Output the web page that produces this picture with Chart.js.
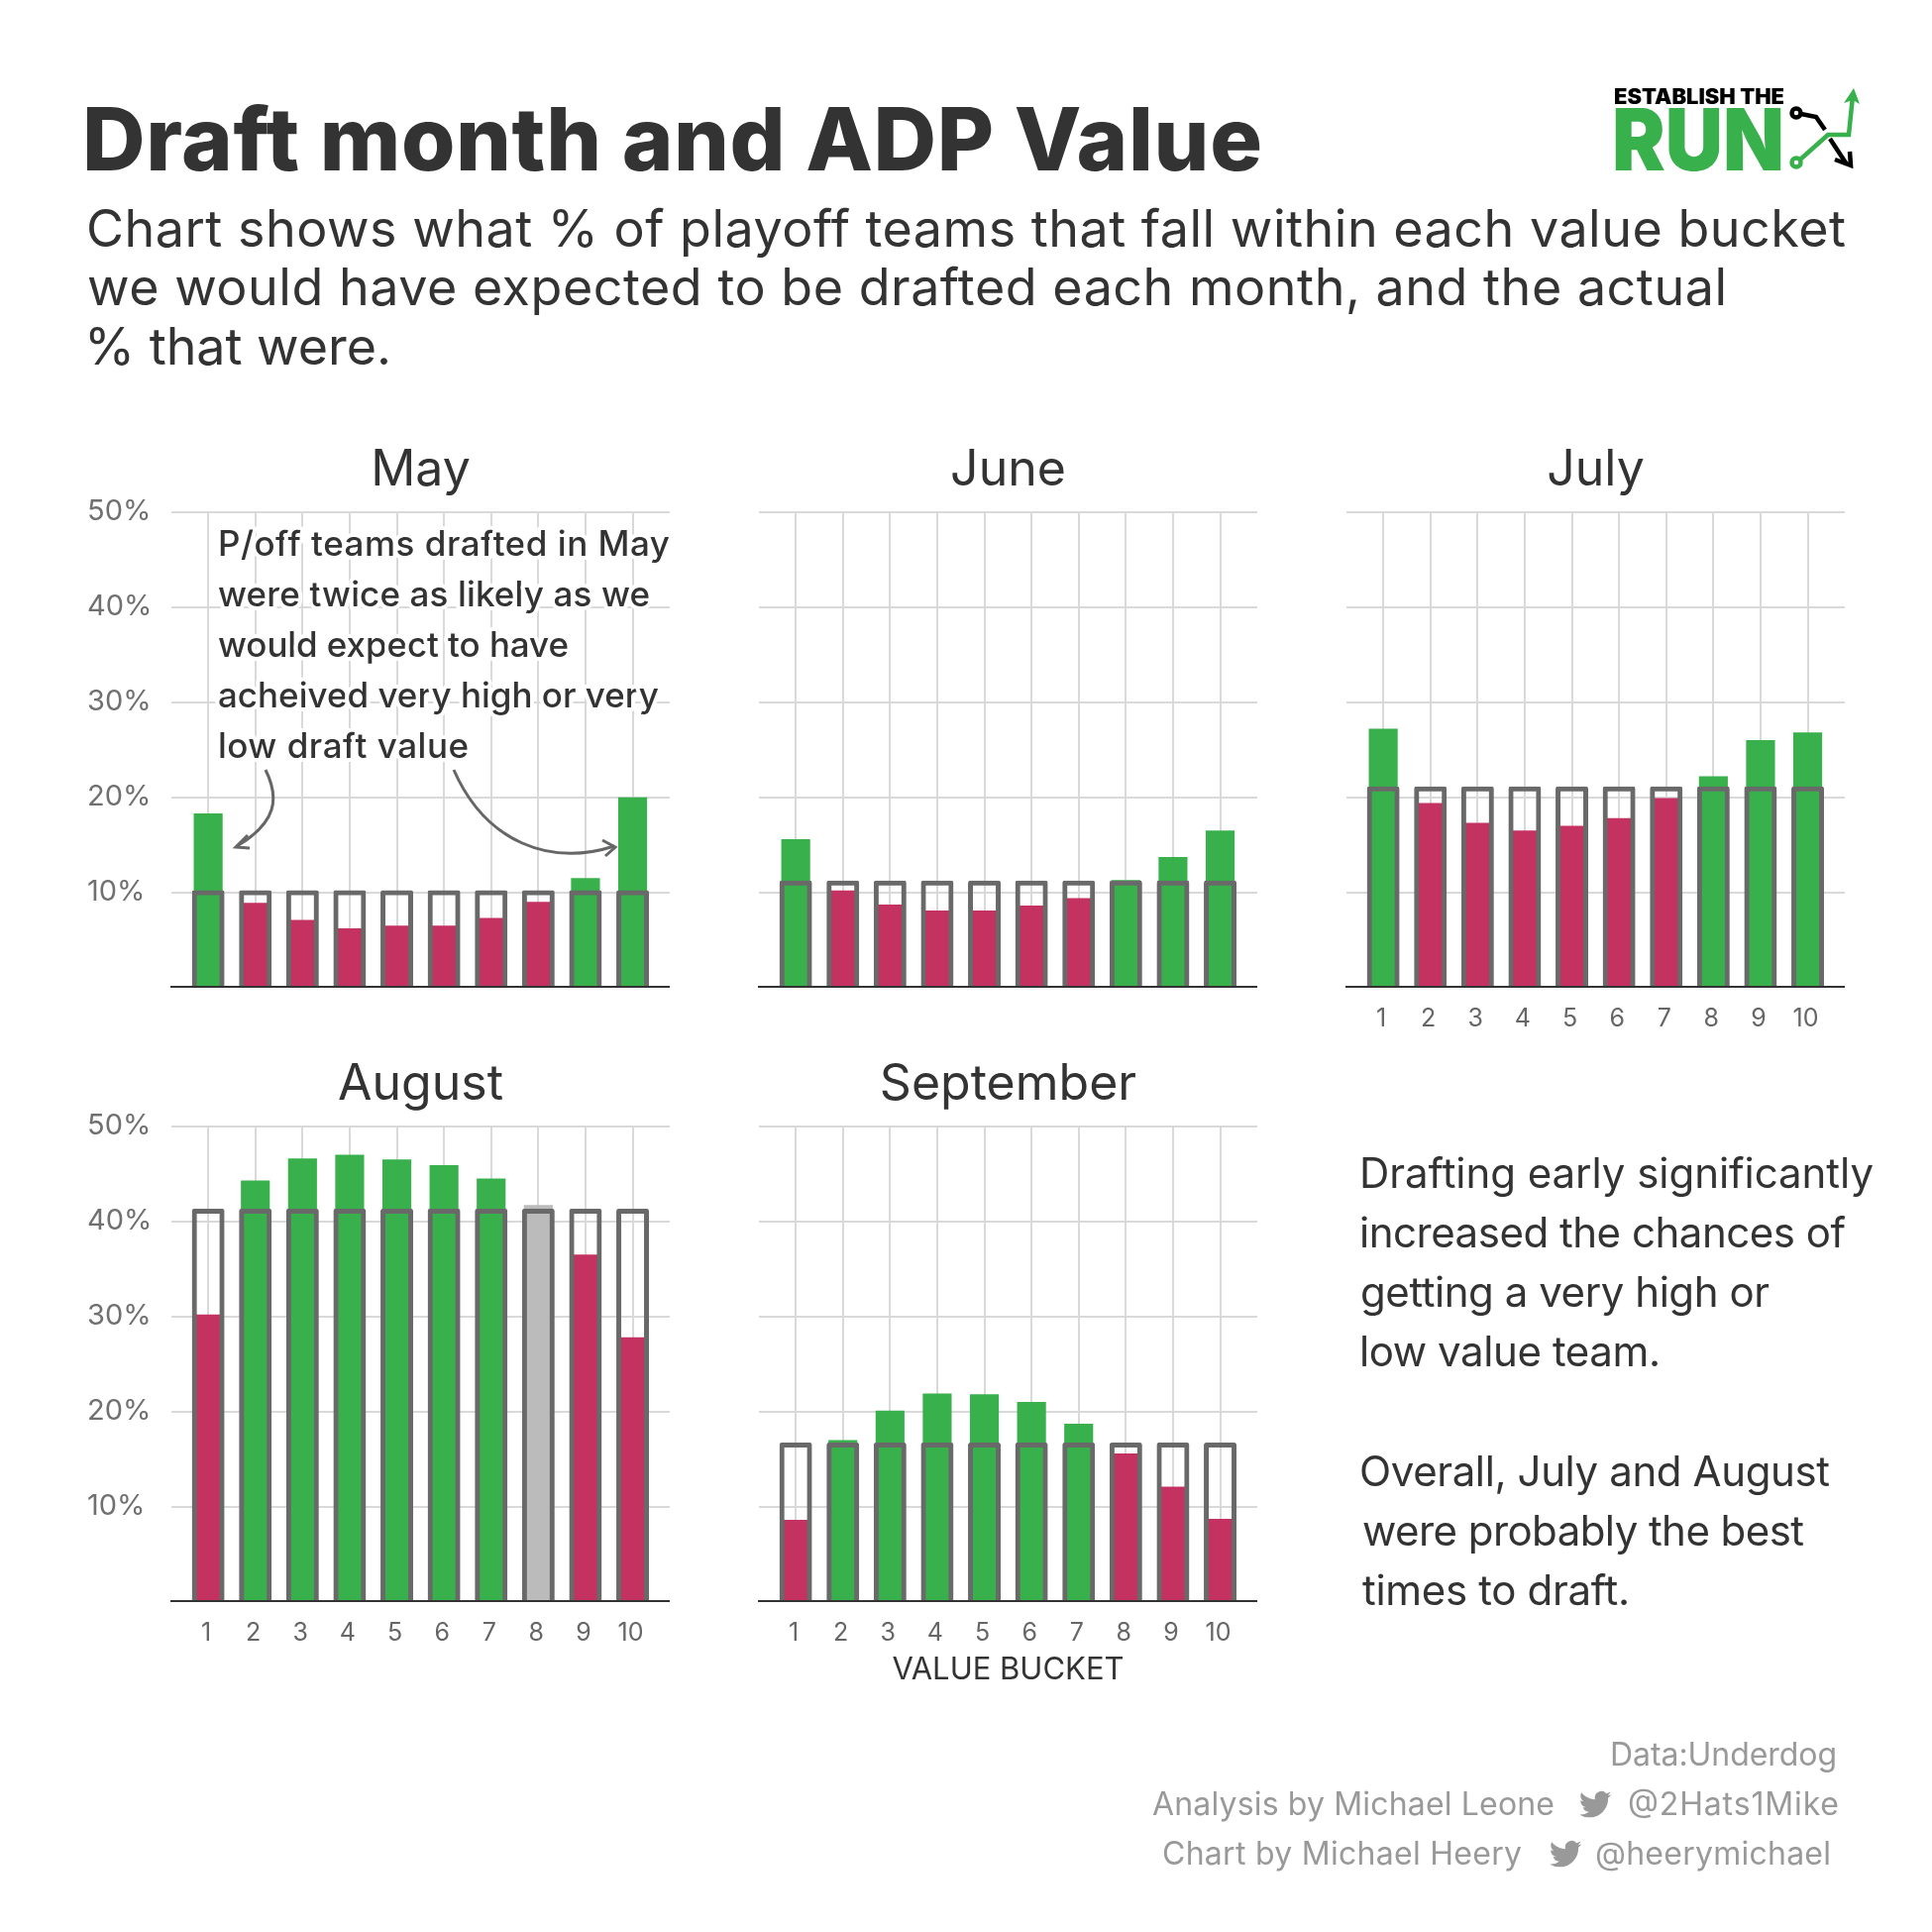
<!DOCTYPE html>
<html>
<head>
<meta charset="utf-8">
<title>Draft month and ADP Value</title>
<script src="https://cdn.jsdelivr.net/npm/chart.js@4/dist/chart.umd.js"></script>
<style>
  html, body { margin: 0; padding: 0; background: #fff; }
  #page { position: relative; width: 1950px; height: 1950px; overflow: hidden; background: #fff; }
  canvas { position: absolute; }
  #overlay { position: absolute; left: 0; top: 0; }
  #overlay text { font-family: Inter, sans-serif; }
  .head { font-size: 52px; fill: #333; }
  .note { font-size: 35px; font-weight: 500; fill: #333; paint-order: stroke fill; stroke: #fff; stroke-width: 8px; stroke-linejoin: round; }
  .side { font-size: 42px; fill: #333; }
  .foot { font-size: 32px; fill: #999; }
</style>
</head>
<body>
<div id="page">
  <canvas id="may"></canvas>
  <canvas id="june"></canvas>
  <canvas id="july"></canvas>
  <canvas id="august"></canvas>
  <canvas id="september"></canvas>

  <svg id="overlay" width="1950" height="1950" viewBox="0 0 1950 1950">
    <defs>
      <path id="bird" d="M23.953 4.57a10 10 0 01-2.825.775 4.958 4.958 0 002.163-2.723c-.951.555-2.005.959-3.127 1.184a4.92 4.92 0 00-8.384 4.482C7.69 8.095 4.067 6.13 1.64 3.162a4.822 4.822 0 00-.666 2.475c0 1.71.87 3.213 2.188 4.096a4.904 4.904 0 01-2.228-.616v.06a4.923 4.923 0 003.946 4.827 4.996 4.996 0 01-2.212.085 4.936 4.936 0 004.604 3.417 9.867 9.867 0 01-6.102 2.105c-.39 0-.779-.023-1.17-.067a13.995 13.995 0 007.557 2.209c9.053 0 13.998-7.496 13.998-13.985 0-.21 0-.42-.015-.63A9.935 9.935 0 0024 4.59z"/>
    </defs>

    <!-- heading -->
    <text x="83" y="172" textLength="1191" font-size="88" font-weight="800" fill="#333">Draft month and ADP Value</text>
    <text class="head" x="87" y="249" textLength="1776">Chart shows what % of playoff teams that fall within each value bucket</text>
    <text class="head" x="88" y="308" textLength="1655">we would have expected to be drafted each month, and the actual</text>
    <text class="head" x="85" y="368" textLength="310">% that were.</text>

    <!-- logo -->
    <text x="1629" y="105" textLength="172" lengthAdjust="spacingAndGlyphs" font-size="21" font-weight="900" fill="#000">ESTABLISH THE</text>
    <text x="1627" y="172" textLength="174" lengthAdjust="spacingAndGlyphs" font-size="87" font-weight="900" fill="#38b04c">RUN</text>
    <g fill="none" stroke-width="4.5">
      <circle cx="1813" cy="114" r="4.5" stroke="#000"/>
      <path d="M1818 115 L1833 118 L1842 131" stroke="#000"/>
      <path d="M1847 140 L1864 166" stroke="#000"/>
      <path d="M1852 161 L1868 167 L1867 153" stroke="#000"/>
      <circle cx="1813" cy="164" r="4.5" stroke="#38b04c"/>
      <path d="M1817 161 L1845 136 L1866 136 L1870 97" stroke="#38b04c"/>
    </g>
    <path d="M1871 89 L1877 105 L1870 101 L1861 104 Z" fill="#38b04c"/>

    <!-- May annotation -->
    <text class="note" x="220" y="561" textLength="456">P/off teams drafted in May</text>
    <text class="note" x="220" y="612" textLength="436">were twice as likely as we</text>
    <text class="note" x="220" y="663" textLength="354">would expect to have</text>
    <text class="note" x="220" y="714" textLength="445">acheived very high or very</text>
    <text class="note" x="220" y="765" textLength="253">low draft value</text>
    <g fill="none" stroke="#666" stroke-width="3">
      <path d="M268 777 C282 805 280 830 239 854"/>
      <path d="M250 843 L238 855 L252 856"/>
      <path d="M458 777 C490 850 555 875 620 854"/>
      <path d="M608 848 L621 855 L611 864"/>
    </g>

    <!-- side text -->
    <text class="side" x="1372" y="1199" textLength="519">Drafting early significantly</text>
    <text class="side" x="1372" y="1259" textLength="491">increased the chances of</text>
    <text class="side" x="1373" y="1319" textLength="413">getting a very high or</text>
    <text class="side" x="1372" y="1379" textLength="304">low value team.</text>
    <text class="side" x="1372" y="1500" textLength="475">Overall, July and August</text>
    <text class="side" x="1375" y="1560" textLength="446">were probably the best</text>
    <text class="side" x="1375" y="1620" textLength="270">times to draft.</text>

    <!-- credits -->
    <text class="foot" x="1625" y="1782" textLength="229">Data:Underdog</text>
    <text class="foot" x="1163" y="1832" textLength="406">Analysis by Michael Leone</text>
    <use href="#bird" transform="translate(1594 1805) scale(1.35)" fill="#999"/>
    <text class="foot" x="1643" y="1832" textLength="213">@2Hats1Mike</text>
    <text class="foot" x="1173" y="1882" textLength="363">Chart by Michael Heery</text>
    <use href="#bird" transform="translate(1564 1855) scale(1.35)" fill="#999"/>
    <text class="foot" x="1610" y="1882" textLength="238">@heerymichael</text>
  </svg>
</div>

<script>
const buckets = [1, 2, 3, 4, 5, 6, 7, 8, 9, 10];
const yTicks = [10, 20, 30, 40, 50];

const mayActual = [18.3, 8.9, 7.1, 6.2, 6.5, 6.5, 7.3, 9.0, 11.5, 20.0];
const mayExpected = [10, 10, 10, 10, 10, 10, 10, 10, 10, 10];
const juneActual = [15.6, 10.2, 8.7, 8.1, 8.1, 8.6, 9.4, 11.3, 13.7, 16.5];
const juneExpected = [11, 11, 11, 11, 11, 11, 11, 11, 11, 11];
const julyActual = [27.2, 19.4, 17.3, 16.5, 17.0, 17.8, 19.9, 22.2, 26.0, 26.8];
const julyExpected = [20.9, 20.9, 20.9, 20.9, 20.9, 20.9, 20.9, 20.9, 20.9, 20.9];
const augustActual = [30.2, 44.3, 46.6, 47.0, 46.5, 45.9, 44.5, 41.7, 36.5, 27.8];
const augustExpected = [41.1, 41.1, 41.1, 41.1, 41.1, 41.1, 41.1, 41.1, 41.1, 41.1];
const septemberActual = [8.6, 17.0, 20.1, 21.9, 21.8, 21.0, 18.7, 15.6, 12.1, 8.7];
const septemberExpected = [16.5, 16.5, 16.5, 16.5, 16.5, 16.5, 16.5, 16.5, 16.5, 16.5];

const GREEN = '#38b04c', RED = '#c43262', GRAY = '#bbbbbb', OUTLINE = '#696969';
const FONT = 'Inter, sans-serif';
// chart.js insets bar borders, the outline here is centred on the value (about 2.5px of 9.6px per %)
const OUTLINE_SHIFT = 0.26;

function barColor(actual, expected) {
  if (Math.abs(actual - expected) / expected < 0.016) return GRAY;
  return actual > expected ? GREEN : RED;
}

function points(values, shift) {
  return values.map((v, i) => ({ x: buckets[i], y: v + shift }));
}

function drawPanel(id, title, actual, expected, left, top, showY, showX, xTitle) {
  const canvas = document.getElementById(id);
  const axisW = 85, titleH = 80, plotW = 503, plotH = 479, bottomH = 100;
  canvas.style.left = (left - axisW) + 'px';
  canvas.style.top = (top - titleH) + 'px';
  canvas.width = axisW + plotW;
  canvas.height = titleH + plotH + bottomH;

  new Chart(canvas.getContext('2d'), {
    type: 'bar',
    data: {
      datasets: [
        {
          label: 'Expected',
          data: points(expected, OUTLINE_SHIFT),
          backgroundColor: 'transparent',
          borderColor: OUTLINE,
          borderWidth: 5,
          borderSkipped: 'bottom',
          borderRadius: { topLeft: 2, topRight: 2 },
          inflateAmount: 0,
          barThickness: 33,
          grouped: false,
        },
        {
          label: 'Actual',
          data: points(actual, 0),
          backgroundColor: actual.map((v, i) => barColor(v, expected[i])),
          borderWidth: 0,
          barThickness: 28.5,
          grouped: false,
        },
      ],
    },
    options: {
      responsive: false,
      animation: false,
      devicePixelRatio: 1,
      layout: { padding: 0 },
      plugins: {
        legend: { display: false },
        tooltip: { enabled: false },
        title: {
          display: true,
          text: title,
          fullSize: false,
          color: '#333',
          font: { family: FONT, size: 50, weight: '400', lineHeight: 1 },
          padding: { top: 13, bottom: 17 },
        },
      },
      scales: {
        x: {
          type: 'linear',
          offset: false,
          min: 0.22,
          max: 10.787,
          afterBuildTicks: (s) => { s.ticks = buckets.map((v) => ({ value: v })); },
          afterFit: (s) => { s.height = bottomH; },
          grid: { offset: false, color: '#d9d9d9', lineWidth: 2, drawTicks: false },
          border: { color: '#333', width: 2, z: 1 },
          ticks: {
            display: showX,
            autoSkip: false,
            maxRotation: 0,
            padding: 17,
            labelOffset: -2,
            color: '#666',
            font: { family: FONT, size: 25 },
            callback: (v) => String(v),
          },
          title: {
            display: !!xTitle,
            text: xTitle,
            color: '#333',
            font: { family: FONT, size: 31 },
            padding: { top: 0, bottom: 12 },
          },
        },
        y: {
          min: 0.1,
          max: 50,
          afterBuildTicks: (s) => { s.ticks = yTicks.map((v) => ({ value: v })); },
          afterFit: (s) => { s.width = axisW; },
          grid: { color: '#d9d9d9', lineWidth: 2, drawTicks: false },
          border: { display: false },
          ticks: {
            display: showY,
            crossAlign: 'far',
            padding: 0,
            labelOffset: -1,
            color: '#707070',
            font: { family: FONT, size: 29 },
            callback: (v) => v + '%',
          },
        },
      },
    },
  });
}

drawPanel('may', 'May', mayActual, mayExpected, 173, 517, true, false, '');
drawPanel('june', 'June', juneActual, juneExpected, 766, 517, false, false, '');
drawPanel('july', 'July', julyActual, julyExpected, 1359, 517, false, true, '');
drawPanel('august', 'August', augustActual, augustExpected, 173, 1137, true, true, '');
drawPanel('september', 'September', septemberActual, septemberExpected, 766, 1137, false, true, 'VALUE BUCKET');
</script>
</body>
</html>
